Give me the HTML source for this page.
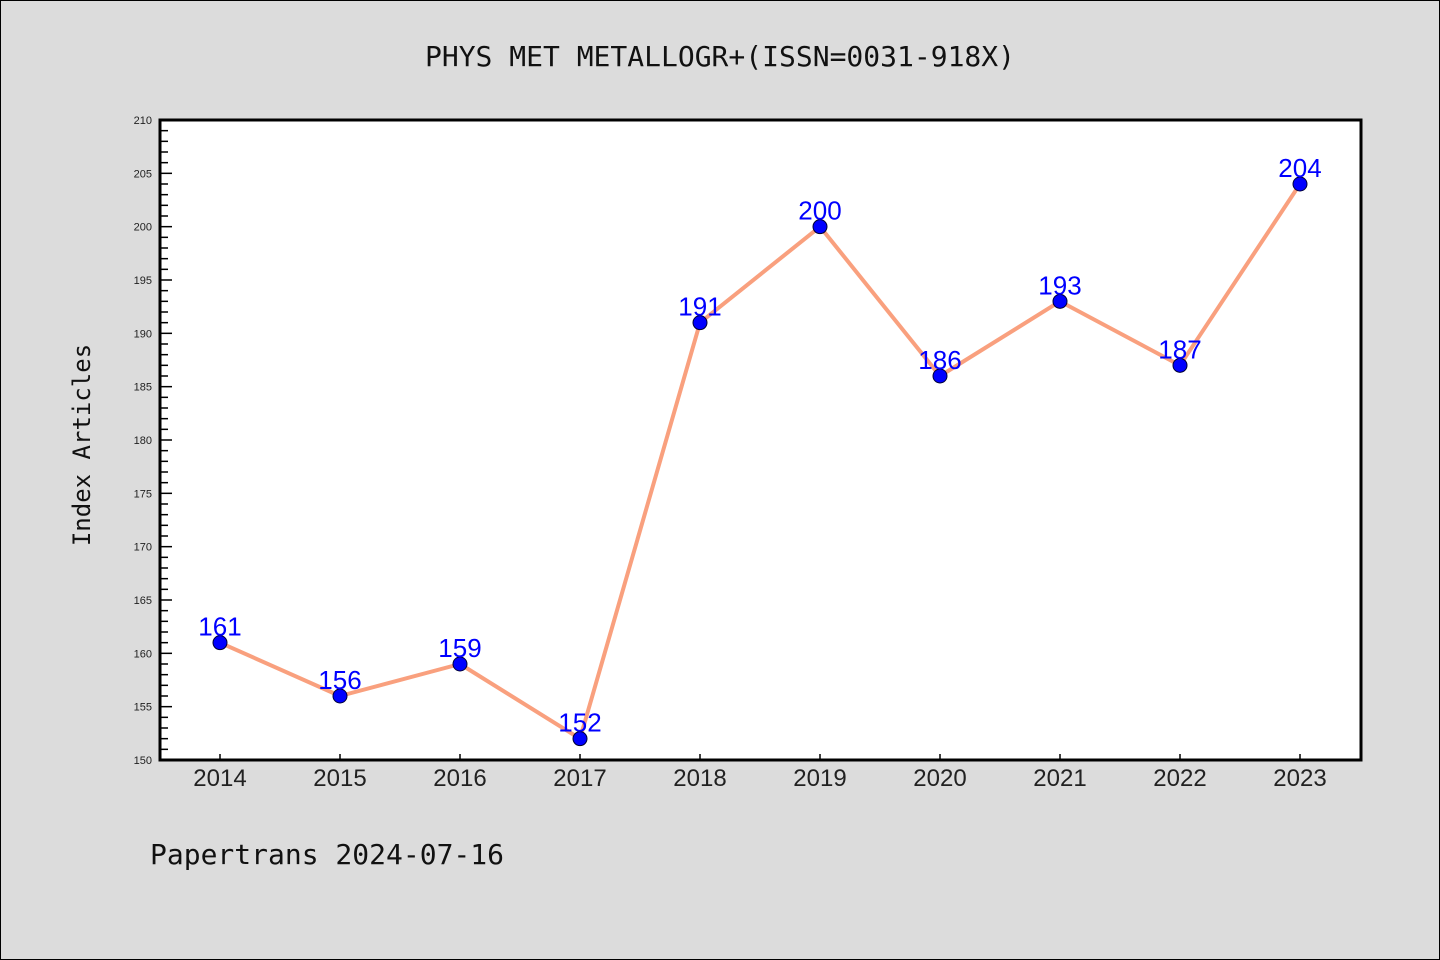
<!DOCTYPE html>
<html><head><meta charset="utf-8"><style>
body{margin:0;background:#dcdcdc;}
svg{display:block;font-family:"Liberation Sans","DejaVu Sans",sans-serif;}
</style></head><body>
<svg width="1440" height="960">
<rect x="0.5" y="0.5" width="1439" height="959" fill="#dcdcdc" stroke="#000"/>
<text x="720" y="66" text-anchor="middle" font-size="28" font-family="DejaVu Sans Mono, Liberation Mono, monospace" fill="#111">PHYS MET METALLOGR+(ISSN=0031-918X)</text>
<rect x="160" y="120" width="1201" height="640" fill="#fff"/>
<g id="axes"></g>
<g id="series"></g>
<rect x="160" y="120" width="1201" height="640" fill="none" stroke="#000" stroke-width="3"/>
<text transform="translate(90,445) rotate(-90)" text-anchor="middle" font-size="24" font-family="DejaVu Sans Mono, Liberation Mono, monospace" fill="#111">Index Articles</text>
<text x="150" y="864" font-size="28" font-family="DejaVu Sans Mono, Liberation Mono, monospace" fill="#111">Papertrans 2024-07-16</text>
</svg>
<script>
const years = ["2014","2015","2016","2017","2018","2019","2020","2021","2022","2023"];
const articles = [161,156,159,152,191,200,186,193,187,204];
const yTicks = [150,155,160,165,170,175,180,185,190,195,200,205,210];
const ns="http://www.w3.org/2000/svg";
const X0=160,X1=1361,Y0=760,Y1=120,yMin=150,yMax=210;
const xs=i=>220+i*120;
const ys=v=>Y0-(v-yMin)/(yMax-yMin)*(Y0-Y1);
function mk(t,a,p){const e=document.createElementNS(ns,t);for(const k in a)e.setAttribute(k,a[k]);p.appendChild(e);return e;}
const ax=document.getElementById('axes'),se=document.getElementById('series');
for(let v=yMin;v<=yMax;v++){
  const major=v%5===0;
  const l=mk('line',{x1:X0,x2:X0+(major?12:8),y1:ys(v),y2:ys(v),stroke:'#000','stroke-width':1.5},ax);
  
  
}
yTicks.forEach(v=>{
  const t=mk('text',{x:X0-8,y:ys(v)+4,'text-anchor':'end','font-size':11,fill:'#222'},ax);
  t.textContent=v;
  
  
});
years.forEach((y,i)=>{
  const l=mk('line',{x1:xs(i),x2:xs(i),y1:Y0,y2:Y0-6,stroke:'#000','stroke-width':1.5},ax);
  
  
  const t=mk('text',{x:xs(i),y:Y0+26,'text-anchor':'middle','font-size':24,fill:'#222'},ax);
  t.textContent=y;
  
  
});
const pl=mk('polyline',{points:articles.map((v,i)=>xs(i)+','+ys(v)).join(' '),fill:'none',stroke:'#f9a07e','stroke-width':4,'stroke-linejoin':'round'},se);


articles.forEach((v,i)=>{
  const c=mk('circle',{cx:xs(i),cy:ys(v),r:7,fill:'#0000ff',stroke:'#000033','stroke-width':1},se);
  
  
});
articles.forEach((v,i)=>{
  const t=mk('text',{x:xs(i),y:ys(v)-7,'text-anchor':'middle','font-size':26,fill:'#0000ff'},se);
  t.textContent=v;
  
  
});
</script>
</body></html>
